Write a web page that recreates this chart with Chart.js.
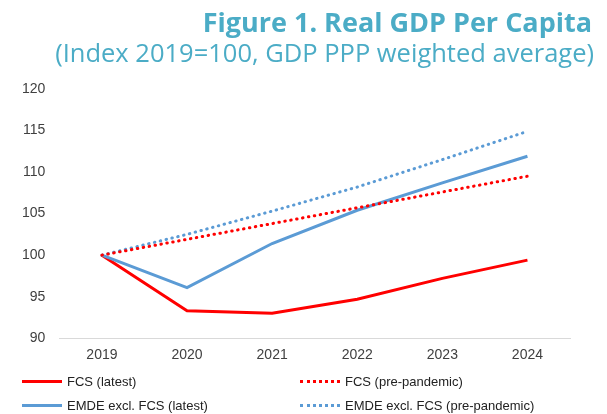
<!DOCTYPE html>
<html>
<head>
<meta charset="utf-8">
<script src="https://cdn.jsdelivr.net/npm/chart.js@4"></script>
<style>
  body { margin: 0; background: #fff; }
  #wrap { position: relative; width: 607px; height: 414px; }
  #title, #subtitle { position: absolute; right: 15px; color: #4bacc6; font-family: "Open Sans", sans-serif; line-height: 1; white-space: nowrap; }
  #title { top: 8px; font-size: 27px; font-weight: bold; }
  #subtitle { top: 40px; font-size: 25.5px; right: 13px; }
  #legend { position: absolute; left: 0; top: 374px; width: 607px; font: 13px "Liberation Sans", Arial, sans-serif; color: #222; }
  .item { position: absolute; display: flex; align-items: center; white-space: nowrap; }
  .swatch { width: 40px; height: 0; margin-right: 5px; }
</style>
</head>
<body>
<div id="wrap">
  <canvas id="chart" width="607" height="414"></canvas>
  <div id="title">Figure 1. Real GDP Per Capita</div>
  <div id="subtitle">(Index 2019=100, GDP PPP weighted average)</div>
  <div id="legend"></div>
</div>
<script>
const years = ['2019', '2020', '2021', '2022', '2023', '2024'];
const fcsLatest = [100, 93.3, 93.0, 94.7, 97.2, 99.4];
const fcsPre = [100, 101.9, 103.8, 105.7, 107.6, 109.5];
const emdeLatest = [100, 96.1, 101.4, 105.4, 108.7, 111.9];
const emdePre = [100, 102.5, 105.3, 108.2, 111.5, 114.9];
const yTicks = [90, 95, 100, 105, 110, 115, 120];

const red = '#ff0000';
const blue = '#5b9bd5';

const series = [
    { label: 'FCS (latest)', data: fcsLatest, color: red, dotted: false, x: 22, y: 0 },
    { label: 'FCS (pre-pandemic)', data: fcsPre, color: red, dotted: true, x: 300, y: 0 },
    { label: 'EMDE excl. FCS (latest)', data: emdeLatest, color: blue, dotted: false, x: 22, y: 24 },
    { label: 'EMDE excl. FCS (pre-pandemic)', data: emdePre, color: blue, dotted: true, x: 300, y: 24 }
];

// draw dotted series first so solid lines sit on top
const order = [1, 3, 2, 0];

new Chart(document.getElementById('chart'), {
    type: 'line',
    data: {
        labels: years,
        datasets: order.map(i => {
            const s = series[i];
            return {
                label: s.label,
                data: s.data,
                borderColor: s.color,
                borderWidth: 3,
                borderDash: s.dotted ? [0.5, 5.5] : [],
                borderCapStyle: s.dotted ? 'round' : 'butt',
                pointRadius: 0,
                tension: 0,
                fill: false
            };
        })
    },
    options: {
        responsive: false,
        animation: false,
        layout: { padding: { left: 8, right: 37, top: 89, bottom: 41 } },
        plugins: {
            legend: { display: false },
            tooltip: { enabled: false }
        },
        scales: {
            x: {
                offset: true,
                grid: { display: false, drawTicks: false },
                border: { display: true, color: '#d9d9d9', width: 1 },
                ticks: { color: '#404040', font: { family: 'Liberation Sans', size: 14 }, padding: 9 }
            },
            y: {
                min: 90,
                max: 120,
                afterBuildTicks: axis => { axis.ticks = yTicks.map(v => ({ value: v })); },
                grid: { display: false, drawTicks: false },
                border: { display: false },
                ticks: { color: '#404040', font: { family: 'Liberation Sans', size: 14 }, padding: 14 }
            }
        }
    }
});

const legend = document.getElementById('legend');
series.forEach(s => {
    const item = document.createElement('div');
    item.className = 'item';
    item.style.left = s.x + 'px';
    item.style.top = s.y + 'px';
    const sw = document.createElement('span');
    sw.className = 'swatch';
    sw.style.borderTop = s.dotted ? `3px dotted ${s.color}` : `3px solid ${s.color}`;
    item.appendChild(sw);
    item.appendChild(document.createTextNode(s.label));
    legend.appendChild(item);
});
</script>
</body>
</html>
